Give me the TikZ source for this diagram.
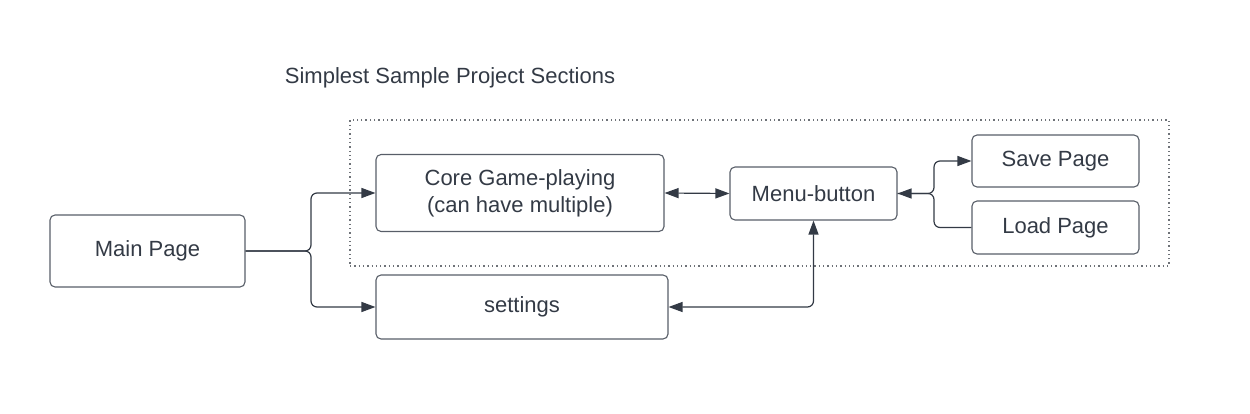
\documentclass[tikz,border=0pt]{standalone}
\usepackage{fontspec}
\setmainfont{Liberation Sans}
\usetikzlibrary{arrows.meta}
\definecolor{txt}{RGB}{51,58,69}
\definecolor{ln}{RGB}{88,94,104}
\definecolor{dot}{RGB}{110,114,120}
\begin{document}
\begin{tikzpicture}[x=1pt,y=-1pt,
  box/.style={draw=ln, line width=1.1pt, rounded corners=5pt, text=txt,
    font=\fontsize{22}{27}\selectfont, align=center, inner sep=0pt},
  conn/.style={draw=txt, line width=1.2pt, rounded corners=6pt},
  tip/.tip={Triangle[length=14pt,width=10pt]}]
\useasboundingbox (0,0) rectangle (1250,414);
\node[text=txt, font=\fontsize{22}{26}\selectfont] (title) at (450,78) {Simplest Sample Project Sections};
\node[draw=dot, line width=1.2pt, dash pattern=on 1.3pt off 3pt, minimum width=819pt, minimum height=146pt, inner sep=0pt] (group) at (759.5,193) {};
\node[box, minimum width=195pt, minimum height=72pt] (main) at (147.5,251) {Main Page};
\node[box, minimum width=288pt, minimum height=77pt] (core) at (520,193) {Core Game-playing\\(can have multiple)};
\node[box, minimum width=292pt, minimum height=64pt] (settings) at (522,307) {settings};
\node[box, minimum width=167pt, minimum height=53pt] (menu) at (813.5,193.5) {Menu-button};
\node[box, minimum width=167pt, minimum height=52pt] (save) at (1055.5,161) {Save Page};
\node[box, minimum width=167pt, minimum height=53pt] (load) at (1055.5,227.5) {Load Page};
\coordinate (j1) at (311,251);
\coordinate (j2) at (934,193.5);
\draw[conn,-tip] (main.east) -- (j1) |- (core.west);
\draw[conn,-tip] (main.east) -- (j1) |- (settings.west);
\draw[conn,tip-tip] (core.east) -- (menu.west);
\draw[conn,-tip] (load.west) -| (j2) -- (menu.east);
\draw[conn,-tip] (menu.east) -- (j2) |- (save.west);
\draw[conn,tip-tip] (settings.east) -| (menu.south);
\end{tikzpicture}
\end{document}
